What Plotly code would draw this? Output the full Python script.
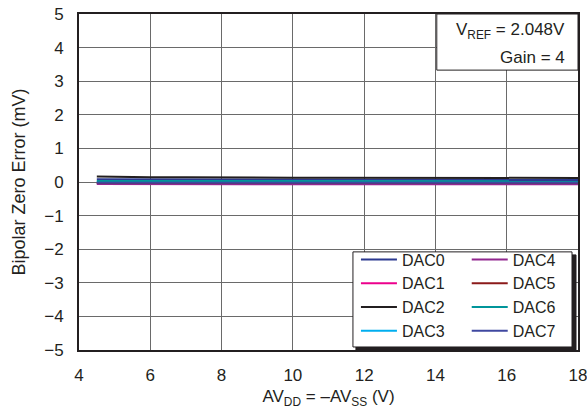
import plotly.graph_objects as go

supply_v = [4.5, 5, 6, 7, 8, 9, 10, 11, 12, 13, 14, 15, 16, 17, 18]

dac0 = [0.08, 0.08, 0.07, 0.07, 0.07, 0.07, 0.07, 0.07, 0.07, 0.06, 0.06, 0.06, 0.06, 0.06, 0.06]
dac1 = [-0.04, -0.04, -0.05, -0.05, -0.05, -0.05, -0.05, -0.05, -0.05, -0.05, -0.05, -0.04, -0.05, -0.05, -0.05]
dac2 = [0.16, 0.15, 0.14, 0.14, 0.13, 0.13, 0.13, 0.13, 0.13, 0.13, 0.12, 0.12, 0.12, 0.12, 0.12]
dac3 = [0.00, 0.00, -0.01, -0.01, -0.01, -0.01, -0.01, -0.01, -0.01, -0.01, -0.01, -0.01, -0.01, -0.01, -0.01]
dac4 = [-0.06, -0.06, -0.07, -0.07, -0.07, -0.07, -0.07, -0.07, -0.07, -0.07, -0.07, -0.06, -0.07, -0.08, -0.07]
dac5 = [-0.03, -0.03, -0.03, -0.03, -0.03, -0.03, -0.03, -0.03, -0.03, -0.03, -0.03, -0.03, -0.03, -0.03, -0.03]
dac6 = [0.03, 0.03, 0.02, 0.02, 0.02, 0.02, 0.02, 0.02, 0.02, 0.02, 0.02, 0.03, 0.02, 0.02, 0.02]
dac7 = [-0.02, -0.02, -0.02, -0.02, -0.02, -0.02, -0.02, -0.02, -0.02, -0.02, -0.02, -0.02, -0.02, -0.02, -0.02]

series_names = ["DAC0", "DAC1", "DAC2", "DAC3", "DAC4", "DAC5", "DAC6", "DAC7"]
series_values = [dac0, dac1, dac2, dac3, dac4, dac5, dac6, dac7]
series_colors = ["#2b3990", "#ec008c", "#231f20", "#00aeef",
                 "#92278f", "#8b1a1a", "#00959a", "#3f48a0"]

x_ticks = [4, 6, 8, 10, 12, 14, 16, 18]
y_ticks = [-5, -4, -3, -2, -1, 0, 1, 2, 3, 4, 5]

FONT = "Liberation Sans, Arial, Helvetica, sans-serif"
TXT = "#231f20"

fig = go.Figure()
for i in range(len(series_names)):
    fig.add_trace(go.Scatter(
        x=supply_v, y=series_values[i], mode="lines", name=series_names[i],
        line=dict(color=series_colors[i], width=2),
        legend="legend" if i < 4 else "legend2",
    ))

grid_col = "#6a6a6a"
fig.update_layout(
    width=587, height=418,
    margin=dict(l=79, r=9, t=14, b=68),
    paper_bgcolor="white", plot_bgcolor="white",
    font=dict(family=FONT, size=17, color=TXT),
    showlegend=True,
    xaxis=dict(
        range=[4, 18], tickvals=x_ticks, showgrid=True, gridcolor=grid_col, gridwidth=1,
        showline=True, linecolor=TXT, linewidth=2, mirror=True, zeroline=False,
        ticks="", tickfont=dict(size=17), ticklabelstandoff=9, automargin=False,
        ticklabeloverflow="allow",
        title=dict(text="AV<sub>DD</sub> = \u2013AV<sub>SS</sub> (V)", font=dict(size=17), standoff=6),
    ),
    yaxis=dict(
        range=[-5, 5], tickvals=y_ticks, showgrid=True, gridcolor=grid_col, gridwidth=1,
        showline=True, linecolor=TXT, linewidth=2, mirror=True, zeroline=False,
        ticks="", tickfont=dict(size=17), ticklabelstandoff=10, automargin=False,
        ticklabeloverflow="allow",
        title=dict(text="Bipolar Zero Error (mV)", font=dict(size=18), standoff=14),
    ),
    legend=dict(
        x=0.555, y=0.32, xanchor="left", yanchor="top", bgcolor="rgba(0,0,0,0)",
        borderwidth=0, font=dict(size=16), tracegroupgap=0, itemwidth=36,
        traceorder="normal",
    ),
    legend2=dict(
        x=0.777, y=0.32, xanchor="left", yanchor="top", bgcolor="rgba(0,0,0,0)",
        borderwidth=0, font=dict(size=16), tracegroupgap=0, itemwidth=36,
        traceorder="normal",
    ),
)

# legend frame with drop shadow
fig.add_shape(type="rect", xref="paper", yref="paper", x0=0.555, x1=0.996, y0=0.0, y1=0.283,
              line=dict(color=TXT, width=1), fillcolor=TXT, layer="above")
fig.add_shape(type="rect", xref="paper", yref="paper", x0=0.549, x1=0.988, y0=0.009, y1=0.292,
              line=dict(color=TXT, width=1), fillcolor="white", layer="above")

# annotation box
fig.add_shape(type="rect", xref="paper", yref="paper", x0=0.717, x1=1.0, y0=0.833, y1=1.0,
              line=dict(color=TXT, width=1), fillcolor="white", layer="above")
fig.add_annotation(xref="paper", yref="paper", x=0.978, y=(350 - 31) / 336, xanchor="right", yanchor="middle",
                   align="right", showarrow=False,
                   text="V<sub>REF</sub> = 2.048V", font=dict(size=17, family=FONT, color=TXT))
fig.add_annotation(xref="paper", yref="paper", x=0.978, y=(350 - 58) / 336, xanchor="right", yanchor="middle",
                   align="right", showarrow=False,
                   text="Gain = 4", font=dict(size=17, family=FONT, color=TXT))

fig.write_html("out.html", config={"displayModeBar": False},
               post_script="document.body.style.margin='0';")
